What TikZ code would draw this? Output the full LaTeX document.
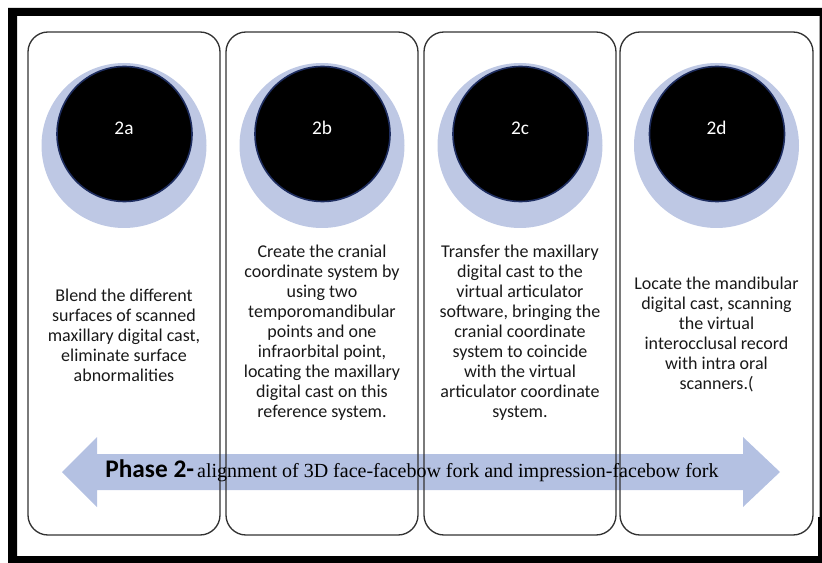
\documentclass[tikz,border=0pt]{standalone}
\usepackage{fontspec}
\setmainfont{Carlito}
\newfontfamily\serifpart{Liberation Serif}
\usetikzlibrary{positioning}

\definecolor{ringblue}{RGB}{190,200,228}
\definecolor{arrowblue}{RGB}{180,193,226}
\definecolor{rimnavy}{RGB}{30,45,95}
\definecolor{boxline}{RGB}{50,50,50}
\definecolor{textgray}{RGB}{25,25,25}

\tikzset{
  stagebox/.style={draw=boxline, line width=1pt, rounded corners=15},
  ring/.style={fill=ringblue, draw=none},
  disc/.style={fill=black, draw=rimnavy, line width=1.2pt},
  disclabel/.style={text=white, font=\fontsize{14.5}{17}\selectfont, inner sep=0.75pt},
  steptext/.style={align=center, text=textgray, font=\fontsize{13.5}{15}\selectfont, inner sep=0.75pt}
}

\begin{document}
\begin{tikzpicture}[x=0.75pt,y=0.75pt,yscale=-1,xscale=1]
        \useasboundingbox (0,0) rectangle (822,563);

        %Shape: Frame
        \fill [black, even odd rule] (8,8) rectangle (822,563) (17,16) rectangle (819.5,556) ;
        \fill [black] (818,517) rectangle (822,556) ;

        %Shape: Double Arrow
        \fill [arrowblue] (62,472) -- (97,437) -- (97,454) -- (743,454) -- (743,437) -- (780,472) -- (743,507) -- (743,490) -- (97,490) -- (97,507) -- cycle ;

        %Shape: Rounded Rect
        \draw [stagebox] (28,32) rectangle (220,535) ;
        \draw [stagebox] (226,32) rectangle (418,535) ;
        \draw [stagebox] (424,32) rectangle (616,535) ;
        \draw [stagebox] (620,32) rectangle (813,535) ;

        %Shape: Circle
        \foreach \cx/\tag in {124/2a, 322/2b, 520/2c, 716.5/2d}{
          \fill [ring] (\cx,145.5) circle (82.5) ;
          \draw [disc] (\cx+0.5,134) circle (67.5) ;
          % Text Node
          \draw (\cx,128) node [disclabel] (lbl\tag) {\tag};
        }

        % Text Node
        \draw (124,335) node [steptext] (txt2a) {Blend the different\\surfaces of scanned\\maxillary digital cast,\\eliminate surface\\abnormalities};
        % Text Node
        \draw (322,333) node [steptext] (txt2b) {Create the cranial\\coordinate system by\\using two\\temporomandibular\\points and one\\infraorbital point,\\locating the maxillary\\digital cast on this\\reference system.};
        % Text Node
        \draw (520,333) node [steptext] (txt2c) {Transfer the maxillary\\digital cast to the\\virtual articulator\\software, bringing the\\cranial coordinate\\system to coincide\\with the virtual\\articulator coordinate\\system.};
        % Text Node
        \draw (716.5,334) node [steptext] (txt2d) {Locate the mandibular\\digital cast, scanning\\the virtual\\interocclusal record\\with intra oral\\scanners.(};

        % Text Node
        \draw (412,471) node [inner sep=0.75pt, text=black] (phase) {{\fontsize{19}{22}\selectfont\bfseries Phase 2-} {\serifpart\fontsize{15}{18}\selectfont alignment of 3D face-facebow fork and impression-facebow fork}};

\end{tikzpicture}
\end{document}
